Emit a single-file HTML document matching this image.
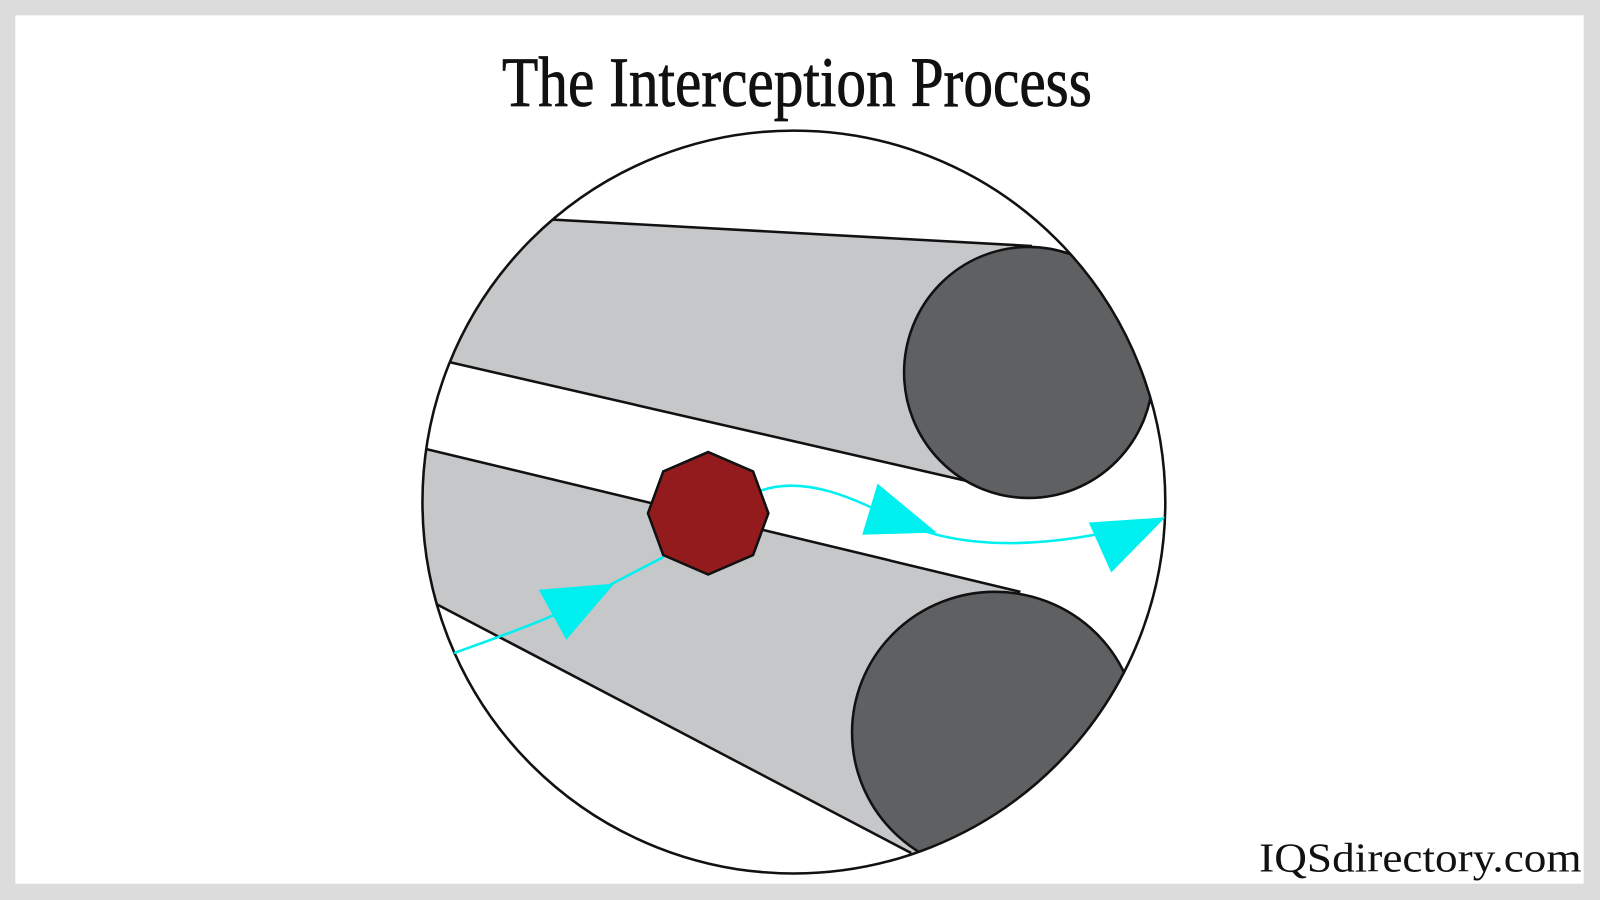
<!DOCTYPE html>
<html><head><meta charset="utf-8"><style>html,body{margin:0;padding:0;background:#dcdcdc}svg{display:block}</style></head>
<body>
<svg width="1600" height="900" viewBox="0 0 1568 882" preserveAspectRatio="none" xmlns="http://www.w3.org/2000/svg">
<defs><clipPath id="c"><circle cx="778" cy="492" r="364"/></clipPath></defs>
<rect x="0" y="0" width="1568" height="882" fill="#dcdcdc"/>
<rect x="15" y="15" width="1537" height="851" fill="#fff"/>
<text x="781" y="104" font-family="'Liberation Serif',serif" font-size="70" text-anchor="middle" textLength="578" lengthAdjust="spacingAndGlyphs" fill="#111" stroke="#111" stroke-width="0.8">The Interception Process</text>
<circle cx="778" cy="492" r="364" fill="#fff"/>
<g clip-path="url(#c)" stroke="#111" stroke-width="2.5">
  <polygon points="520,214 1010,241 1000,360 985,480 441,355 380,340 380,200" fill="#c6c7c9"/>
  <ellipse cx="1008" cy="365" rx="122" ry="123" fill="#5f6062"/>
  <polygon points="380,430 1000,580 980,860 893,836 428,592 380,570" fill="#c6c7c9" stroke="none"/>
  <line x1="380" y1="431" x2="1000" y2="580"/>
  <line x1="380" y1="567" x2="893" y2="836"/>
  <ellipse cx="975" cy="718" rx="140" ry="138" fill="#5f6062"/>
</g>
<circle cx="778" cy="492" r="364" fill="none" stroke="#111" stroke-width="2.5"/>
<g fill="none" stroke="#00f0f0" stroke-width="2.5">
  <path d="M445,640 C500,620 560,600 600,572 L650,546"/>
  <path d="M745,481 C790,465 840,490 880,510 C940,540 1030,540 1140,508"/>
</g>
<g fill="#00f0f0">
  <polygon points="528,578 602,572 555,627"/>
  <polygon points="860,474 845,524 918,522"/>
  <polygon points="1067,512 1142,507 1089,561"/>
</g>
<polygon points="650,462 694,443 738,462 753,503 738,544 694,563 650,544 635,503" fill="#931b1d" stroke="#111" stroke-width="2.5"/>
<text x="1550" y="854" font-family="'Liberation Serif',serif" font-size="40" text-anchor="end" textLength="316" lengthAdjust="spacingAndGlyphs" fill="#111">IQSdirectory.com</text>
</svg>
</body></html>
